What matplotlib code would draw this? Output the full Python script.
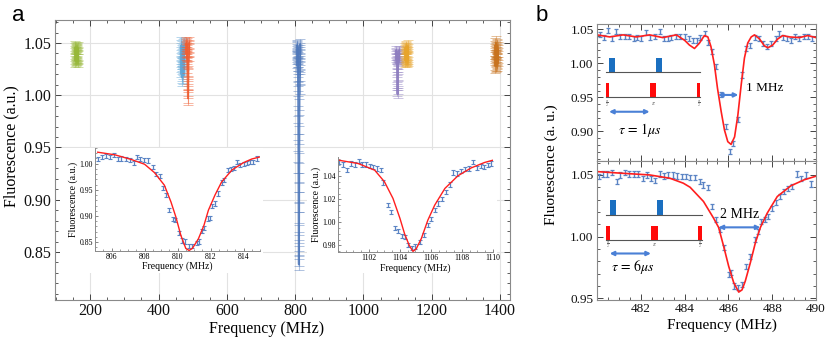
import matplotlib
matplotlib.use('Agg')
import matplotlib.pyplot as plt
from matplotlib.patches import Rectangle
from matplotlib.ticker import MultipleLocator

plt.rcParams['font.family'] = ['Liberation Serif', 'DejaVu Serif']
plt.rcParams['mathtext.fontset'] = 'stix'

# ---------------- panel a: survey of resonances ----------------
green_f = [155.0, 155.3, 155.7, 156.0, 156.3, 156.7, 157.0, 157.3, 157.7, 158.0,
           158.3, 158.7, 159.0, 159.3, 159.7, 160.0, 160.3, 160.7, 161.0, 161.3,
           161.7, 162.0, 162.3, 162.7, 163.0, 163.3, 163.7, 164.0, 164.3, 164.7]
green_v = [1.041, 1.036, 1.044, 1.039, 1.046, 1.033, 1.040, 1.043, 1.037, 1.035,
           1.042, 1.038, 1.045, 1.034, 1.040, 1.037, 1.043, 1.039, 1.036, 1.041,
           1.044, 1.035, 1.038, 1.042, 1.036, 1.040, 1.033, 1.045, 1.039, 1.037]
sky_f = [465.0, 465.3, 465.7, 466.0, 466.3, 466.7, 467.0, 467.3, 467.7, 468.0,
         468.3, 468.7, 469.0, 469.3, 469.7, 470.0, 470.3, 470.7, 471.0, 471.3,
         471.7, 472.0, 472.3, 472.7, 473.0, 473.3, 473.7, 474.0, 474.3, 474.7]
sky_v = [1.045, 1.038, 1.030, 1.042, 1.025, 1.035, 1.048, 1.020, 1.033, 1.040,
         1.017, 1.028, 1.044, 1.036, 1.022, 1.031, 1.046, 1.027, 1.039, 1.034,
         1.024, 1.041, 1.029, 1.037, 1.019, 1.043, 1.032, 1.026, 1.038, 1.047]
red_f = [480.0, 480.3, 480.7, 481.0, 481.3, 481.7, 482.0, 482.3, 482.7, 483.0,
         483.3, 483.7, 484.0, 484.3, 484.7, 485.0, 485.3, 485.7, 486.0, 486.3,
         486.7, 487.0, 487.3, 487.7, 488.0, 488.3, 488.7, 489.0, 489.3, 489.7]
red_v = [1.048, 1.045, 1.050, 1.043, 1.046, 1.040, 1.049, 1.044, 1.038, 1.047,
         1.042, 1.036, 1.040, 1.033, 1.027, 1.020, 1.012, 1.005, 0.999, 0.997,
         1.003, 1.011, 1.022, 1.031, 1.039, 1.044, 1.047, 1.043, 1.050, 1.046]
blue_f = [805.0, 805.2, 805.4, 805.6, 805.8, 806.0, 806.2, 806.4, 806.6, 806.8,
          807.0, 807.2, 807.4, 807.6, 807.8, 808.0, 808.2, 808.4, 808.6, 808.8,
          809.0, 809.2, 809.4, 809.6, 809.8, 810.0, 810.2, 810.4, 810.6, 810.8,
          811.0, 811.2, 811.4, 811.6, 811.8, 812.0, 812.2, 812.4, 812.6, 812.8,
          813.0, 813.2, 813.4, 813.6, 813.8, 814.0, 814.2, 814.4, 814.6, 814.8]
blue_v = [1.046, 1.040, 1.048, 1.037, 1.044, 1.031, 1.042, 1.035, 1.047, 1.039,
          1.028, 1.043, 1.036, 1.025, 1.041, 1.018, 1.032, 1.009, 1.022, 1.004,
          0.985, 0.968, 0.952, 0.931, 0.912, 0.893, 0.871, 0.856, 0.842, 0.838,
          0.851, 0.864, 0.883, 0.902, 0.921, 0.940, 0.958, 0.976, 0.991, 1.006,
          1.015, 1.027, 1.019, 1.034, 1.045, 1.030, 1.041, 1.038, 1.049, 1.043]
purple_f = [1095.0, 1095.3, 1095.7, 1096.0, 1096.3, 1096.7, 1097.0, 1097.3, 1097.7, 1098.0,
            1098.3, 1098.7, 1099.0, 1099.3, 1099.7, 1100.0, 1100.3, 1100.7, 1101.0, 1101.3,
            1101.7, 1102.0, 1102.3, 1102.7, 1103.0, 1103.3, 1103.7, 1104.0, 1104.3, 1104.7]
purple_v = [1.041, 1.036, 1.043, 1.038, 1.040, 1.034, 1.039, 1.030, 1.035, 1.026,
            1.021, 1.015, 1.009, 1.003, 1.001, 1.005, 1.011, 1.018, 1.024, 1.029,
            1.033, 1.038, 1.036, 1.042, 1.037, 1.040, 1.035, 1.039, 1.043, 1.036]
yellow_f = [1121.0, 1121.3, 1121.7, 1122.0, 1122.3, 1122.7, 1123.0, 1123.3, 1123.7, 1124.0,
            1124.3, 1124.7, 1125.0, 1125.3, 1125.7, 1126.0, 1126.3, 1126.7, 1127.0, 1127.3,
            1127.7, 1128.0, 1128.3, 1128.7, 1129.0, 1129.3, 1129.7, 1130.0, 1130.3, 1130.7]
yellow_v = [1.040, 1.036, 1.044, 1.038, 1.033, 1.042, 1.046, 1.037, 1.035, 1.041,
            1.039, 1.043, 1.034, 1.038, 1.045, 1.036, 1.040, 1.033, 1.042, 1.039,
            1.044, 1.037, 1.035, 1.041, 1.047, 1.038, 1.034, 1.043, 1.040, 1.036]
brown_f = [1384.0, 1384.3, 1384.7, 1385.0, 1385.3, 1385.7, 1386.0, 1386.3, 1386.7, 1387.0,
           1387.3, 1387.7, 1388.0, 1388.3, 1388.7, 1389.0, 1389.3, 1389.7, 1390.0, 1390.3,
           1390.7, 1391.0, 1391.3, 1391.7, 1392.0, 1392.3, 1392.7, 1393.0, 1393.3, 1393.7]
brown_v = [1.036, 1.042, 1.031, 1.045, 1.038, 1.028, 1.040, 1.048, 1.034, 1.043,
           1.030, 1.039, 1.050, 1.035, 1.041, 1.029, 1.044, 1.037, 1.033, 1.046,
           1.039, 1.032, 1.047, 1.036, 1.042, 1.030, 1.044, 1.038, 1.035, 1.041]
cluster_err = [0.006, 0.008, 0.006, 0.005, 0.004, 0.006, 0.007]

# inset near 810 MHz
in1_f = [805.16, 805.4, 805.65, 805.9, 806.17, 806.37, 806.6, 806.86, 807.1, 807.35,
         807.57, 807.75, 807.95, 808.2, 808.5, 808.72, 808.96, 809.12, 809.3, 809.5,
         809.73, 809.87, 810.1, 810.3, 810.45, 810.7, 810.9, 811.2, 811.33, 811.46,
         811.6, 811.87, 811.95, 812.07, 812.27, 812.43, 812.67, 812.83, 813.04, 813.22,
         813.4, 813.6, 813.8, 814.0, 814.2, 814.4, 814.6, 814.8]
in1_v = [1.009, 1.013, 1.014, 1.013, 1.017, 1.009, 1.010, 1.009, 1.007, 1.002,
         1.013, 1.009, 1.007, 1.006, 0.994, 0.981, 0.976, 0.954, 0.940, 0.911,
         0.894, 0.892, 0.868, 0.853, 0.851, 0.842, 0.842, 0.849, 0.851, 0.871,
         0.877, 0.895, 0.896, 0.919, 0.924, 0.943, 0.964, 0.969, 0.988, 0.990,
         0.992, 1.004, 0.997, 1.000, 1.002, 1.004, 1.004, 1.010]
in1_fit_f = [805.16, 806.2, 807.2, 808.0, 808.6, 809.2, 809.6, 809.9, 810.2, 810.5,
             810.7, 810.9, 811.26, 811.6, 811.87, 812.27, 812.67, 813.3, 814.0, 814.5, 815.0]
in1_fit_v = [1.022, 1.017, 1.008, 0.999, 0.983, 0.959, 0.927, 0.898, 0.863, 0.838,
             0.834, 0.838, 0.856, 0.882, 0.911, 0.940, 0.965, 0.988, 1.002, 1.009, 1.013]

# inset near 1105 MHz
in2_f = [1100.04, 1100.32, 1100.58, 1100.86, 1101.1, 1101.35, 1101.57, 1101.8, 1102.04,
         1102.25, 1102.5, 1102.75, 1102.93, 1103.25, 1103.45, 1103.7, 1103.9, 1104.1,
         1104.3, 1104.55, 1104.8, 1105.0, 1105.3, 1105.55, 1105.8, 1106.0, 1106.25,
         1106.45, 1106.7, 1106.95, 1107.2, 1107.45, 1107.7, 1107.95, 1108.2, 1108.45,
         1108.7, 1108.95, 1109.2, 1109.4, 1109.65, 1109.85]
in2_v = [1.0527, 1.0504, 1.0455, 1.0513, 1.0504, 1.0533, 1.0504, 1.0504, 1.0493,
         1.0484, 1.0470, 1.0455, 1.0348, 1.0150, 1.0092, 0.9948, 0.9925, 0.9884,
         0.9876, 0.9803, 0.9780, 0.9790, 0.9831, 0.9890, 0.9977, 1.0030, 1.0107,
         1.0165, 1.0203, 1.0266, 1.0330, 1.0435, 1.0426, 1.0446, 1.0464, 1.0470,
         1.0527, 1.0475, 1.0493, 1.0484, 1.0498, 1.0513]
in2_fit_f = [1100.04, 1101.3, 1102.37, 1103.0, 1103.55, 1104.0, 1104.3, 1104.6, 1104.84,
             1105.05, 1105.38, 1105.8, 1106.24, 1106.9, 1107.74, 1108.6, 1109.46, 1110.0]
in2_fit_v = [1.0542, 1.0513, 1.0455, 1.0354, 1.0209, 1.0035, 0.990, 0.980, 0.9748,
             0.977, 0.986, 1.002, 1.015, 1.0296, 1.0406, 1.0475, 1.0522, 1.0542]

# ---------------- panel b: Ramsey scans ----------------
b1_f = [480.12, 480.3, 480.5, 480.7, 480.88, 481.06, 481.26, 481.46, 481.67, 481.84,
        482.0, 482.25, 482.43, 482.63, 482.86, 483.04, 483.24, 483.39, 483.59, 483.77,
        484.0, 484.2, 484.38, 484.56, 484.71, 484.91, 485.06, 485.26, 485.44, 485.67,
        485.87, 486.05, 486.23, 486.43, 486.63, 486.81, 486.99, 487.19, 487.39, 487.57,
        487.75, 487.95, 488.15, 488.3, 488.48, 488.66, 488.86, 489.06, 489.24, 489.44,
        489.62, 489.82]
b1_v = [1.043, 1.038, 1.048, 1.036, 1.047, 1.039, 1.040, 1.039, 1.037, 1.038,
        1.037, 1.046, 1.038, 1.039, 1.047, 1.036, 1.037, 1.038, 1.039, 1.040,
        1.039, 1.036, 1.034, 1.034, 1.038, 1.044, 1.031, 1.017, 0.995, 0.954,
        0.907, 0.870, 0.883, 0.917, 0.983, 1.022, 1.026, 1.038, 1.036, 1.030,
        1.025, 1.030, 1.036, 1.044, 1.038, 1.037, 1.034, 1.040, 1.037, 1.039,
        1.040, 1.036]
b1_fit_f = [480.0, 480.58, 481.19, 481.79, 482.4, 483.0, 483.62, 484.0, 484.22, 484.45,
            484.68, 484.9, 485.06, 485.2, 485.36, 485.5, 485.67, 485.82, 485.97, 486.12,
            486.28, 486.43, 486.58, 486.73, 486.88, 487.04, 487.19, 487.42, 487.64, 487.8,
            488.02, 488.25, 488.48, 488.78, 489.24, 489.62, 490.0]
b1_fit_v = [1.042, 1.039, 1.042, 1.039, 1.042, 1.038, 1.042, 1.034, 1.027, 1.022,
            1.030, 1.041, 1.039, 1.025, 0.998, 0.9635, 0.929, 0.902, 0.885, 0.881,
            0.892, 0.924, 0.968, 1.008, 1.030, 1.039, 1.042, 1.036, 1.026, 1.023,
            1.027, 1.036, 1.041, 1.039, 1.038, 1.041, 1.038]

b2_f = [480.09, 480.28, 480.46, 480.67, 480.89, 481.07, 481.28, 481.47, 481.68, 481.88,
        482.08, 482.26, 482.46, 482.65, 482.87, 483.06, 483.26, 483.46, 483.64, 483.87,
        484.07, 484.25, 484.48, 484.68, 484.86, 485.05, 485.24, 485.44, 485.63, 485.81,
        486.01, 486.12, 486.24, 486.44, 486.62, 486.82, 487.0, 487.19, 487.34, 487.49,
        487.65, 487.8, 488.0, 488.15, 488.35, 488.53, 488.72, 488.91, 489.14, 489.33,
        489.53, 489.76]
b2_v = [1.0486, 1.0508, 1.0508, 1.0519, 1.0446, 1.0500, 1.0519, 1.0508, 1.0508, 1.0508,
        1.0473, 1.0500, 1.0473, 1.0454, 1.0508, 1.0492, 1.0500, 1.0500, 1.0492, 1.0486,
        1.0486, 1.0480, 1.0480, 1.0446, 1.0419, 1.0400, 1.0245, 1.0137, 1.0056, 0.9909,
        0.9694, 0.9707, 0.9600, 0.9587, 0.9614, 0.9755, 0.9841, 0.9976, 1.0043, 1.0124,
        1.0137, 1.0164, 1.0231, 1.0277, 1.0325, 1.0366, 1.0392, 1.0406, 1.0508, 1.0473,
        1.0500, 1.0427]
b2_fit_f = [480.0, 481.19, 482.4, 483.33, 483.94, 484.25, 484.86, 485.32, 485.55, 485.78,
            486.01, 486.24, 486.47, 486.62, 486.77, 487.0, 487.23, 487.46, 487.77, 488.23,
            488.84, 489.45, 490.0]
b2_fit_v = [1.0527, 1.0513, 1.0500, 1.0473, 1.0433, 1.0400, 1.0285, 1.0150, 1.0075, 0.9922,
            0.9760, 0.9627, 0.9550, 0.9568, 0.9640, 0.9788, 0.9950, 1.0075, 1.0190, 1.0325,
            1.0411, 1.0460, 1.0490]

POINT = '#5b84c4'
FIT = '#ff1f1f'
FRAME = '#8a8a8a'


def frame(ax, fs):
    for s in ax.spines.values():
        s.set_color(FRAME)
        s.set_linewidth(0.8)
    ax.tick_params(which='both', direction='in', top=True, right=True,
                   color='#444444', labelsize=fs, labelcolor='#111111', pad=2.5)
    ax.tick_params(which='major', length=4.5, width=0.7)
    ax.tick_params(which='minor', length=2.2, width=0.6)


def small_frame(ax):
    ax.spines['top'].set_visible(False)
    ax.spines['right'].set_visible(False)
    for s in ('left', 'bottom'):
        ax.spines[s].set_color(FRAME)
        ax.spines[s].set_linewidth(0.7)
    ax.tick_params(which='both', direction='in', color='#555555', labelsize=5.6, pad=1.5)
    ax.tick_params(which='major', length=2.5, width=0.5)
    ax.tick_params(which='minor', length=1.3, width=0.4)


fig = plt.figure(figsize=(8.3, 3.38), dpi=100)

# ---- main panel a ----
ax = fig.add_axes([0.0663, 0.1124, 0.5482, 0.8284])
frame(ax, 11.5)
clusters = [(green_f, green_v, '#97b83a'), (sky_f, sky_v, '#5ea6d6'),
            (red_f, red_v, '#ef5f33'), (blue_f, blue_v, '#4f78ba'),
            (purple_f, purple_v, '#8d7dbf'), (yellow_f, yellow_v, '#e7a42c'),
            (brown_f, brown_v, '#c8731f')]
for (f, v, c), e in zip(clusters, cluster_err):
    ax.errorbar(f, v, yerr=e, fmt='none', ecolor=c, elinewidth=0.8,
                capsize=3.6, capthick=0.7, alpha=0.45)
    ax.plot(f, v, '-', color=c, lw=1.4, alpha=0.9)
ax.set_xlim(97, 1429)
ax.set_ylim(0.804, 1.072)
ax.set_xticks([200, 400, 600, 800, 1000, 1200, 1400])
ax.set_yticks([0.85, 0.90, 0.95, 1.00, 1.05])
ax.set_yticklabels(['0.85', '0.90', '0.95', '1.00', '1.05'])
ax.xaxis.set_minor_locator(MultipleLocator(50))
ax.yaxis.set_minor_locator(MultipleLocator(0.01))
ax.grid(which='major', color='#e2e2e2', lw=0.8)
ax.set_axisbelow(True)
fig.text(0.3217, 0.028, 'Frequency (MHz)', ha='center', va='center', fontsize=11.5)
fig.text(0.0133, 0.5666, 'Fluorescence (a.u.)', ha='center', va='center',
         rotation=90, fontsize=11.5)

# white backing behind the insets
for x0, y0, w, h in [(0.0723, 0.1923, 0.2446, 0.3698), (0.3699, 0.1923, 0.2289, 0.3639)]:
    fig.add_artist(Rectangle((x0, y0), w, h, transform=fig.transFigure,
                             facecolor='white', edgecolor='none', zorder=1))

ins1 = fig.add_axes([0.1145, 0.2574, 0.1988, 0.3047])
ins1.set_zorder(2)
small_frame(ins1)
ins1.errorbar(in1_f, in1_v, yerr=0.004, fmt='none', ecolor=POINT, elinewidth=0.9,
              capsize=1.1, capthick=0.8)
ins1.plot(in1_fit_f, in1_fit_v, color=FIT, lw=1.0)
ins1.set_xlim(805.0, 815.0)
ins1.set_ylim(0.833, 1.03)
ins1.set_xticks([806, 808, 810, 812, 814])
ins1.set_yticks([0.85, 0.90, 0.95, 1.00])
ins1.set_yticklabels(['0.85', '0.90', '0.95', '1.00'])
ins1.xaxis.set_minor_locator(MultipleLocator(0.5))
ins1.yaxis.set_minor_locator(MultipleLocator(0.01))
ins1.set_xlabel('Frequency (MHz)', fontsize=7, labelpad=0.5)
ins1.set_ylabel('Fluorescence (a.u.)', fontsize=7, labelpad=1)

ins2 = fig.add_axes([0.4072, 0.2536, 0.1867, 0.282])
ins2.set_zorder(2)
small_frame(ins2)
ins2.errorbar(in2_f, in2_v, yerr=0.0018, fmt='none', ecolor=POINT, elinewidth=0.9,
              capsize=1.1, capthick=0.8)
ins2.plot(in2_fit_f, in2_fit_v, color=FIT, lw=1.0)
ins2.set_xlim(1100.0, 1110.0)
ins2.set_ylim(0.974, 1.057)
ins2.set_xticks([1102, 1104, 1106, 1108, 1110])
ins2.set_yticks([0.98, 1.00, 1.02, 1.04])
ins2.set_yticklabels(['0.98', '1.00', '1.02', '1.04'])
ins2.xaxis.set_minor_locator(MultipleLocator(0.5))
ins2.yaxis.set_minor_locator(MultipleLocator(0.005))
ins2.set_xlabel('Frequency (MHz)', fontsize=7, labelpad=0.5)
ins2.set_ylabel('Fluorescence (a.u.)', fontsize=7, labelpad=1)

# ---- panel b ----
axb1 = fig.add_axes([0.7193, 0.5237, 0.2639, 0.4053])
axb2 = fig.add_axes([0.7193, 0.1139, 0.2639, 0.4098])
for a in (axb1, axb2):
    frame(a, 9.5)
    a.set_xlim(480, 490)
    a.set_xticks([482, 484, 486, 488, 490])
    a.xaxis.set_minor_locator(MultipleLocator(0.5))
    a.yaxis.set_minor_locator(MultipleLocator(0.01))
axb1.tick_params(labelbottom=False)

axb1.errorbar(b1_f, b1_v, yerr=0.0037, fmt='none', ecolor=POINT, elinewidth=1.0,
              capsize=1.2, capthick=0.9)
axb1.plot(b1_fit_f, b1_fit_v, color=FIT, lw=1.2)
axb1.set_ylim(0.8566, 1.058)
axb1.set_yticks([0.90, 0.95, 1.00, 1.05])
axb1.set_yticklabels(['0.90', '0.95', '1.00', '1.05'])

axb2.errorbar(b2_f, b2_v, yerr=0.0021, fmt='none', ecolor=POINT, elinewidth=1.0,
              capsize=1.2, capthick=0.9)
axb2.plot(b2_fit_f, b2_fit_v, color=FIT, lw=1.2)
axb2.set_ylim(0.949, 1.0613)
axb2.set_yticks([0.95, 1.00, 1.05])
axb2.set_yticklabels(['0.95', '1.00', '1.05'])
fig.text(0.87, 0.037, 'Frequency (MHz)', ha='center', va='center', fontsize=11)
fig.text(0.664, 0.5133, 'Fluorescence (a. u.)', ha='center', va='center',
         rotation=90, fontsize=11)


def pulses(a, line1, line2, bh1, bh2, blue_x, red_x, x0, x1, arr_y, lab_y,
           tau_x, tau_y, tau_txt):
    a.plot([x0, x1], [line1, line1], color='#555555', lw=0.8)
    a.plot([x0, x1], [line2, line2], color='#555555', lw=0.8)
    for xa, xb in blue_x:
        a.add_patch(Rectangle((xa, line1), xb - xa, bh1, color='#1a6fc0', lw=0))
    for xa, xb in red_x:
        a.add_patch(Rectangle((xa, line2), xb - xa, bh2, color='#ff0a0a', lw=0))
    for (xa, xb), t in zip(red_x, [r'$\frac{\pi}{2}$', r'$\pi$', r'$\frac{\pi}{2}$']):
        a.text((xa + xb) / 2, lab_y, t, fontsize=4, color='#666666',
               ha='center', va='center')
    a.annotate('', xy=(red_x[1][0], arr_y), xytext=(red_x[0][0] + 0.15, arr_y),
               arrowprops=dict(arrowstyle='<|-|>', color='#4a80d6', lw=1.5,
                               mutation_scale=6, shrinkA=0, shrinkB=0))
    a.text(tau_x, tau_y, tau_txt, fontsize=10, ha='center', va='center')


pulses(axb1, 0.987, 0.951, 0.0206, 0.020,
       [(480.55, 480.81), (482.68, 482.95)],
       [(480.40, 480.55), (482.40, 482.71), (484.56, 484.71)],
       480.40, 484.71, 0.929, 0.941, 481.95, 0.902, r'$\tau\,=\,1\mu s$')
pulses(axb2, 1.0177, 0.9976, 0.0116, 0.0113,
       [(480.61, 480.86), (482.75, 483.03)],
       [(480.43, 480.61), (482.46, 482.77), (484.62, 484.79)],
       480.43, 484.79, 0.9863, 0.9935, 481.65, 0.975, r'$\tau\,=\,6\mu s$')

axb1.annotate('', xy=(486.45, 0.9537), xytext=(485.52, 0.9537),
              arrowprops=dict(arrowstyle='<|-|>', color='#4a80d6', lw=1.5,
                              mutation_scale=6, shrinkA=0, shrinkB=0))
axb1.text(486.78, 0.9635, '1 MHz', fontsize=9.5, ha='left', va='center')
axb2.annotate('', xy=(487.46, 1.0075), xytext=(485.55, 1.0075),
              arrowprops=dict(arrowstyle='<|-|>', color='#4a80d6', lw=1.5,
                              mutation_scale=6, shrinkA=0, shrinkB=0))
axb2.text(486.5, 1.0177, '2 MHz', fontsize=10, ha='center', va='center')

fig.text(0.022, 0.955, 'a', fontsize=16, family='Liberation Sans', ha='center', va='center')
fig.text(0.653, 0.955, 'b', fontsize=16, family='Liberation Sans', ha='center', va='center')

fig.savefig('out.png', dpi=100)
